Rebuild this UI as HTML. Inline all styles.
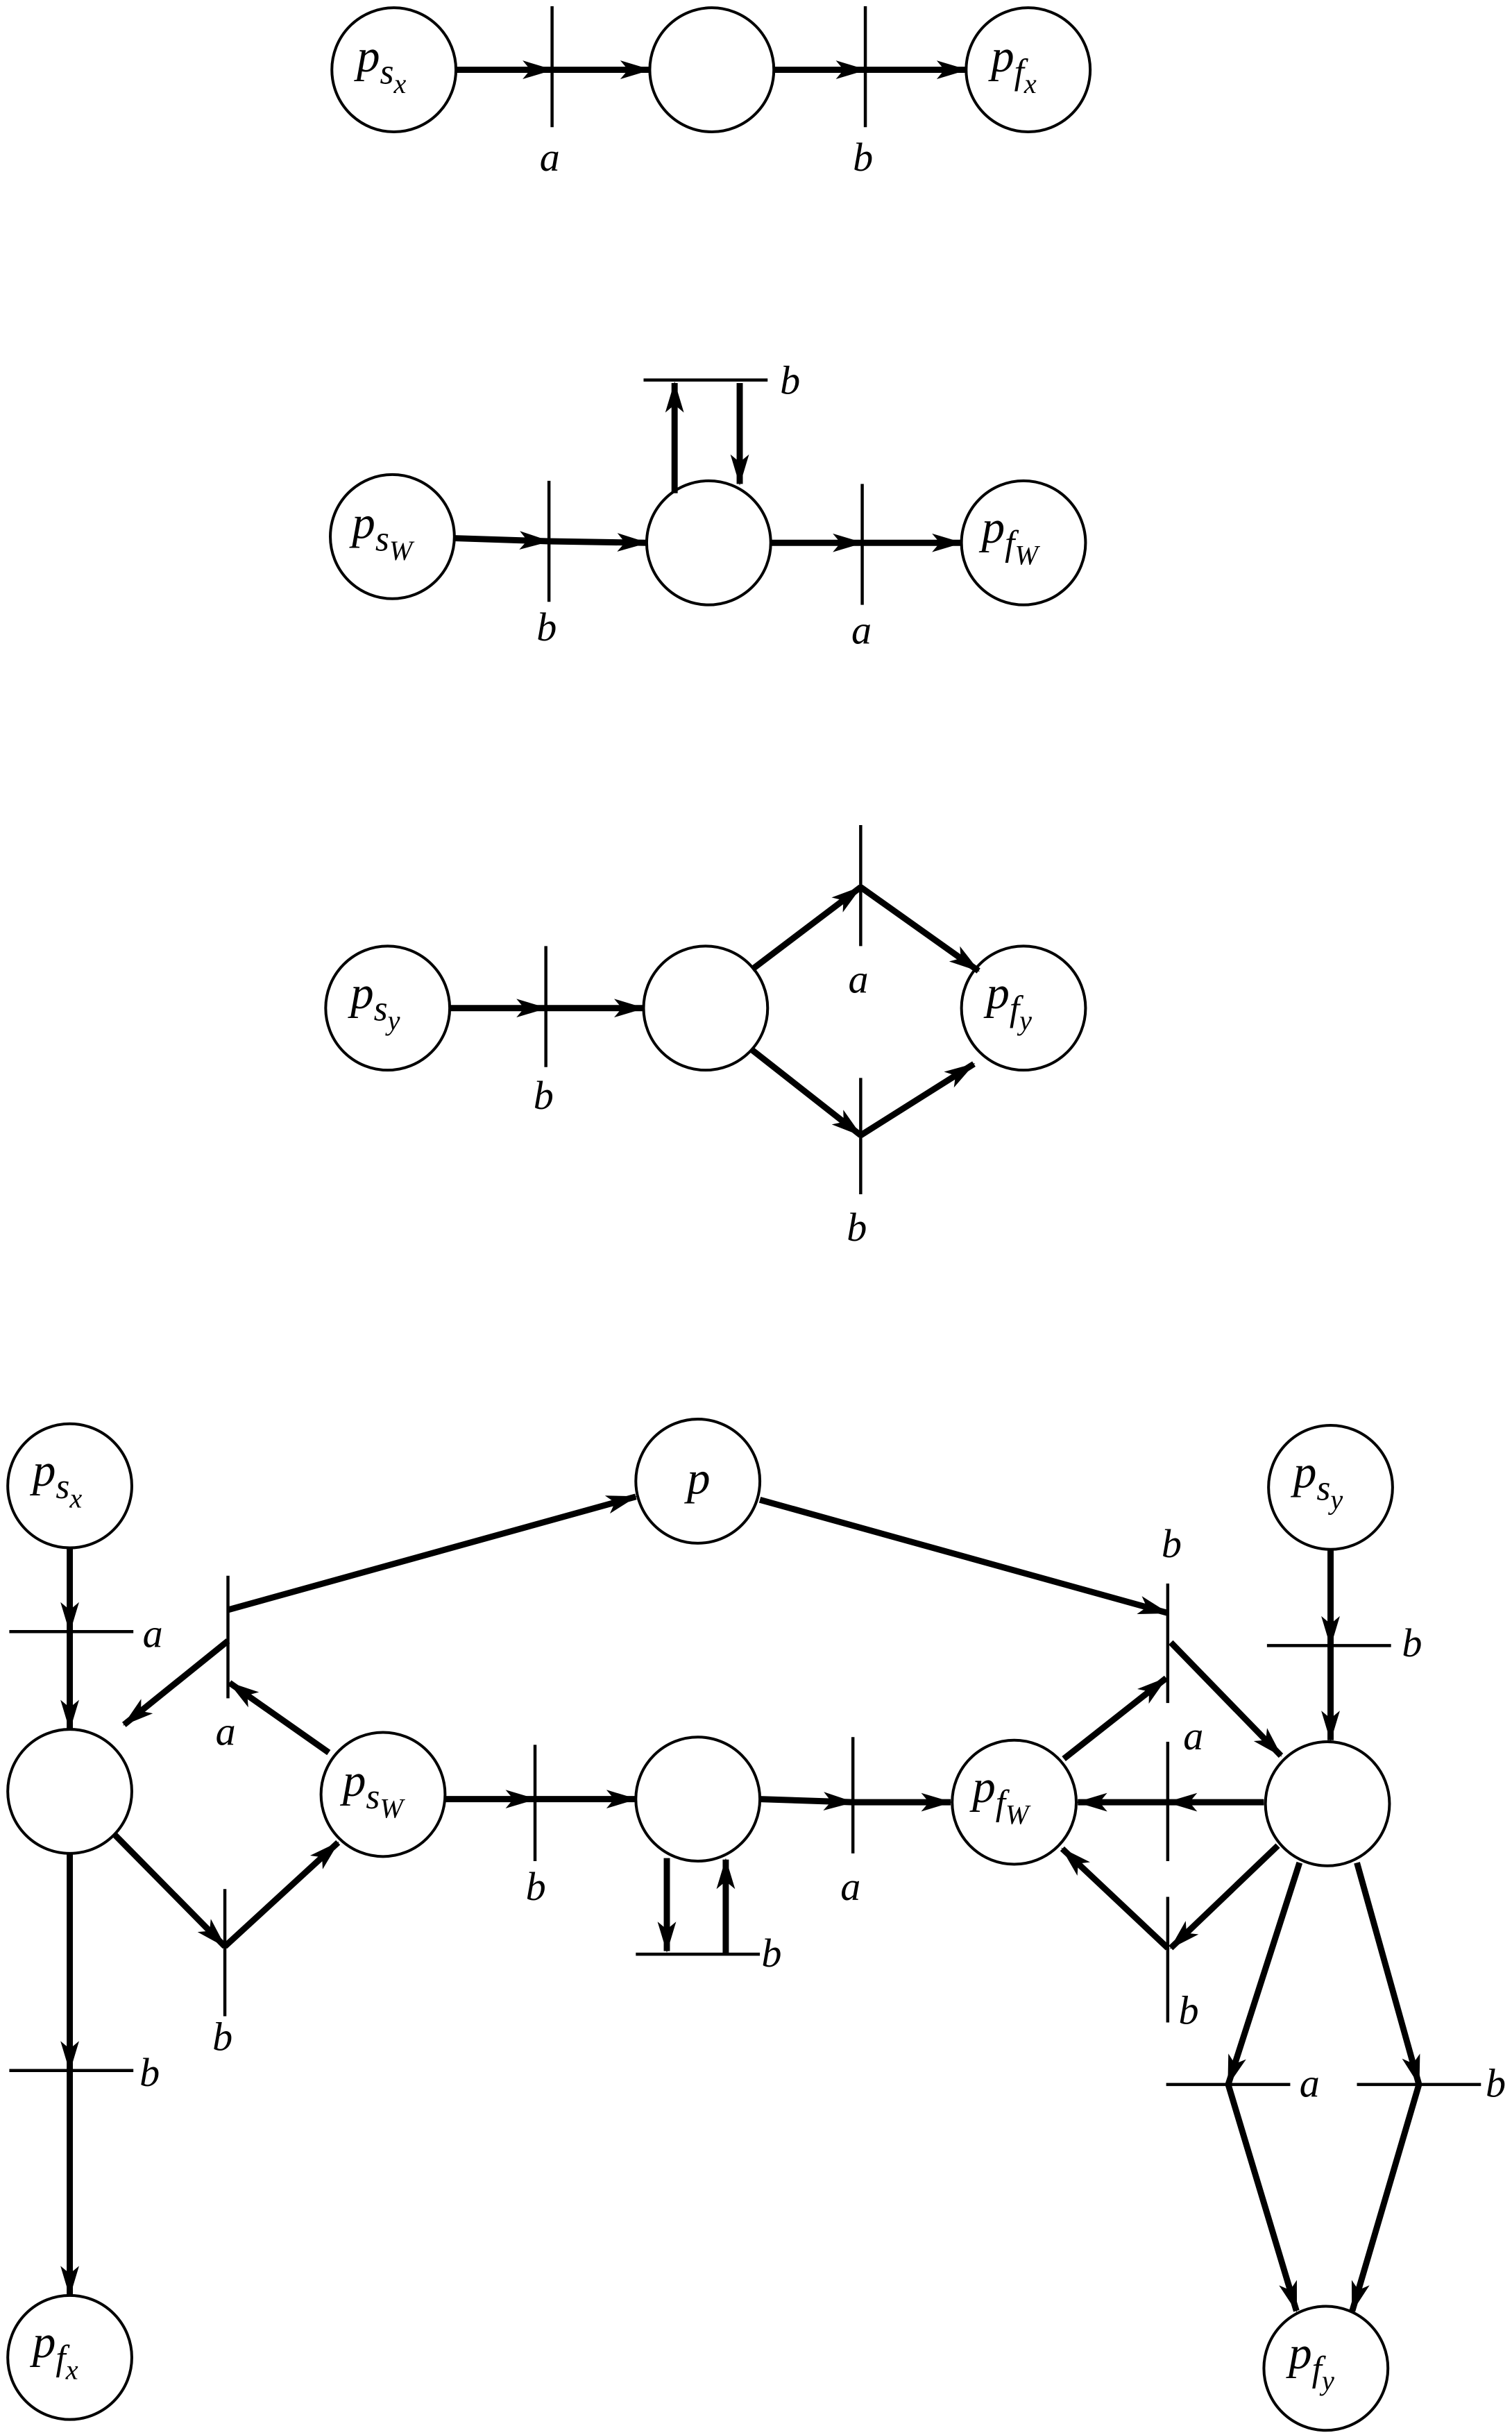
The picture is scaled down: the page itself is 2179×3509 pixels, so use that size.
<!DOCTYPE html>
<html><head><meta charset="utf-8"><style>
html,body{margin:0;padding:0;background:#fff;}
svg{display:block;}
text{font-family:"Liberation Serif","DejaVu Serif",serif;font-style:italic;fill:#000;}
</style></head><body>
<svg width="2179" height="3509" viewBox="0 0 975 1570" preserveAspectRatio="none" xmlns="http://www.w3.org/2000/svg">
<defs>
<marker id="ah" viewBox="0 0 20 12" refX="19" refY="6" markerWidth="20" markerHeight="13" markerUnits="userSpaceOnUse" orient="auto">
<path d="M0,0 L20,6 L0,12 L5,6 z" fill="#000"/>
</marker>
</defs>
<g fill="#fff" stroke="#000" stroke-width="1.8">
<circle cx="254" cy="45" r="40"/><circle cx="459" cy="45" r="40"/><circle cx="663" cy="45" r="40"/>
<circle cx="253" cy="346" r="40"/><circle cx="457" cy="350" r="40"/><circle cx="660" cy="350" r="40"/>
<circle cx="250" cy="650" r="40"/><circle cx="455" cy="650" r="40"/><circle cx="660" cy="650" r="40"/>
<circle cx="45" cy="958" r="40"/><circle cx="45" cy="1155" r="40"/><circle cx="45" cy="1520" r="40"/>
<circle cx="450" cy="955" r="40"/><circle cx="247" cy="1157" r="40"/><circle cx="450" cy="1160" r="40"/>
<circle cx="654" cy="1162" r="40"/><circle cx="856" cy="1163" r="40"/><circle cx="858" cy="959" r="40"/>
<circle cx="855" cy="1527" r="40"/>
</g>
<g stroke="#000" stroke-width="2">
<line x1="356" y1="4" x2="356" y2="82"/><line x1="558" y1="4" x2="558" y2="82"/>
<line x1="354" y1="310" x2="354" y2="388"/><line x1="556" y1="312" x2="556" y2="390"/>
<line x1="415" y1="245" x2="495" y2="245"/>
<line x1="352" y1="610" x2="352" y2="688"/><line x1="555" y1="532" x2="555" y2="610"/><line x1="555" y1="695" x2="555" y2="770"/>
<line x1="6" y1="1052" x2="86" y2="1052"/><line x1="6" y1="1335" x2="86" y2="1335"/>
<line x1="147" y1="1016" x2="147" y2="1095"/><line x1="145" y1="1218" x2="145" y2="1300"/>
<line x1="345" y1="1125" x2="345" y2="1200"/><line x1="410" y1="1260" x2="490" y2="1260"/>
<line x1="550" y1="1120" x2="550" y2="1195"/>
<line x1="753" y1="1021" x2="753" y2="1098"/><line x1="753" y1="1123" x2="753" y2="1200"/><line x1="753" y1="1223" x2="753" y2="1304"/>
<line x1="817" y1="1061" x2="897" y2="1061"/>
<line x1="752" y1="1344" x2="832" y2="1344"/><line x1="875" y1="1344" x2="955" y2="1344"/>
</g>
<g stroke="#000" stroke-width="4" marker-end="url(#ah)">
<line x1="294" y1="45" x2="356" y2="45"/><line x1="356" y1="45" x2="419" y2="45"/>
<line x1="499" y1="45" x2="558" y2="45"/><line x1="558" y1="45" x2="623" y2="45"/>
<line x1="293" y1="347" x2="354" y2="349"/><line x1="354" y1="349" x2="417" y2="350"/>
<line x1="497" y1="350" x2="556" y2="350"/><line x1="556" y1="350" x2="620" y2="350"/>
<line x1="435" y1="318" x2="435" y2="247"/><line x1="477" y1="247" x2="477" y2="312"/>
<line x1="290" y1="650" x2="352" y2="650"/><line x1="352" y1="650" x2="415" y2="650"/>
<line x1="485" y1="625" x2="555" y2="572"/><line x1="555" y1="572" x2="631" y2="626"/>
<line x1="485" y1="677" x2="555" y2="732"/><line x1="555" y1="732" x2="628" y2="686"/>
<line x1="45" y1="998" x2="45" y2="1052"/><line x1="45" y1="1052" x2="45" y2="1115"/>
<line x1="45" y1="1195" x2="45" y2="1335"/><line x1="45" y1="1335" x2="45" y2="1480"/>
<line x1="147" y1="1038" x2="410" y2="965"/><line x1="490" y1="967" x2="753" y2="1040"/>
<line x1="147" y1="1058" x2="80" y2="1112"/><line x1="212" y1="1130" x2="148" y2="1085"/>
<line x1="74" y1="1183" x2="145" y2="1255"/><line x1="145" y1="1255" x2="218" y2="1188"/>
<line x1="287" y1="1160" x2="345" y2="1160"/><line x1="345" y1="1160" x2="410" y2="1160"/>
<line x1="430" y1="1198" x2="430" y2="1258"/><line x1="468" y1="1260" x2="468" y2="1199"/>
<line x1="490" y1="1160" x2="550" y2="1162"/><line x1="550" y1="1162" x2="613" y2="1162"/>
<line x1="755" y1="1059" x2="826" y2="1132"/><line x1="686" y1="1134" x2="752" y2="1082"/>
<line x1="815" y1="1162" x2="753" y2="1162"/><line x1="753" y1="1162" x2="695" y2="1162"/>
<line x1="824" y1="1190" x2="755" y2="1256"/><line x1="753" y1="1256" x2="685" y2="1192"/>
<line x1="858" y1="999" x2="858" y2="1061"/><line x1="858" y1="1061" x2="858" y2="1122"/>
<line x1="838" y1="1201" x2="792" y2="1344"/><line x1="875" y1="1201" x2="915" y2="1344"/>
<line x1="792" y1="1344" x2="836" y2="1490"/><line x1="915" y1="1344" x2="872" y2="1490"/>
</g>
<g font-size="26">
<text x="348" y="110">a</text><text x="550" y="110">b</text>
<text x="503" y="254">b</text><text x="346" y="413">b</text><text x="549" y="415">a</text>
<text x="547" y="640">a</text><text x="344" y="715">b</text><text x="546" y="800">b</text>
<text x="92" y="1062">a</text><text x="90" y="1345">b</text>
<text x="139" y="1125">a</text><text x="137" y="1322">b</text>
<text x="339" y="1225">b</text><text x="491" y="1268">b</text><text x="542" y="1225">a</text>
<text x="749" y="1004">b</text><text x="763" y="1128">a</text><text x="760" y="1305">b</text>
<text x="904" y="1068">b</text><text x="838" y="1352">a</text><text x="958" y="1352">b</text>
<text x="443" y="963" font-size="30">p</text>
</g>
<g font-size="30">
<text x="230" y="46">p<tspan font-size="23" dy="8">s</tspan><tspan font-size="18" dy="6">x</tspan></text>
<text x="639" y="46">p<tspan font-size="23" dy="8">f</tspan><tspan font-size="18" dy="6">x</tspan></text>
<text x="227" y="347">p<tspan font-size="23" dy="8">s</tspan><tspan font-size="18" dy="6">W</tspan></text>
<text x="633" y="350">p<tspan font-size="23" dy="8">f</tspan><tspan font-size="18" dy="6">W</tspan></text>
<text x="226" y="650">p<tspan font-size="23" dy="8">s</tspan><tspan font-size="18" dy="6">y</tspan></text>
<text x="636" y="650">p<tspan font-size="23" dy="8">f</tspan><tspan font-size="18" dy="6">y</tspan></text>
<text x="21" y="958">p<tspan font-size="23" dy="8">s</tspan><tspan font-size="18" dy="6">x</tspan></text>
<text x="21" y="1520">p<tspan font-size="23" dy="8">f</tspan><tspan font-size="18" dy="6">x</tspan></text>
<text x="221" y="1158">p<tspan font-size="23" dy="8">s</tspan><tspan font-size="18" dy="6">W</tspan></text>
<text x="627" y="1162">p<tspan font-size="23" dy="8">f</tspan><tspan font-size="18" dy="6">W</tspan></text>
<text x="834" y="959">p<tspan font-size="23" dy="8">s</tspan><tspan font-size="18" dy="6">y</tspan></text>
<text x="831" y="1527">p<tspan font-size="23" dy="8">f</tspan><tspan font-size="18" dy="6">y</tspan></text>
</g>
</svg>
</body></html>
